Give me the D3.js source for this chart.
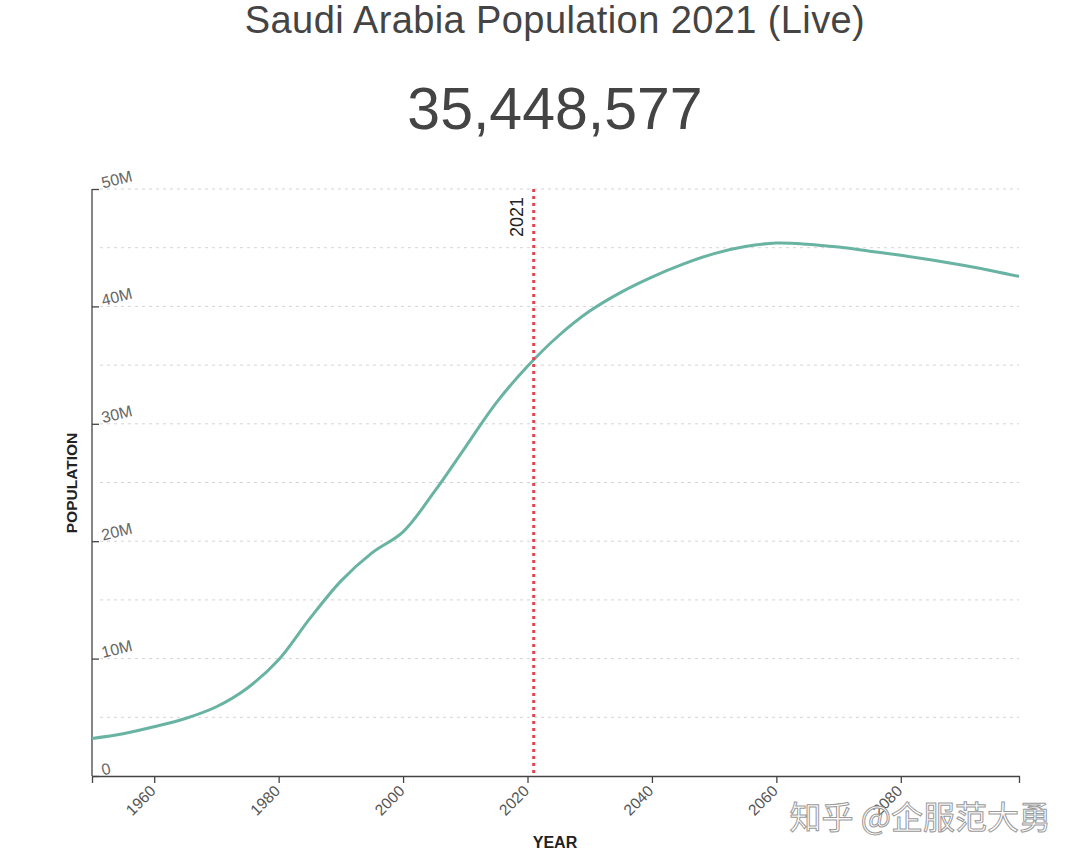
<!DOCTYPE html>
<html>
<head>
<meta charset="utf-8">
<script src="https://cdn.jsdelivr.net/npm/d3@7"></script>
<style>
  body { margin: 0; background: #fff; }
  svg { display: block; font-family: "Liberation Sans", Arial, sans-serif; }
</style>
</head>
<body>
<svg id="chart" width="1080" height="859"></svg>
<script>
// ---- data ----
const titleText = "Saudi Arabia Population 2021 (Live)";
const livePopulation = 35448577;
const currentYear = 2021;
const years = [1950,1955,1960,1965,1970,1975,1980,1985,1990,1995,2000,2005,2010,2015,2020,2025,2030,2035,2040,2045,2050,2055,2060,2065,2070,2075,2080,2085,2090,2095,2099];
const population = [3.2,3.6,4.2,4.9,5.9,7.5,9.9,13.4,16.6,19.0,20.8,24.2,28.0,31.8,34.9,37.5,39.6,41.2,42.5,43.6,44.5,45.1,45.4,45.3,45.05,44.7,44.35,43.95,43.5,43.0,42.55].map(v => v * 1e6);
const xTicks = [1960,1980,2000,2020,2040,2060,2080];
const yTicks = [0,10e6,20e6,30e6,40e6,50e6];
const gridValues = [5e6,10e6,15e6,20e6,25e6,30e6,35e6,40e6,45e6,50e6];
const watermark = "知乎 @企服范大勇";

const data = years.map((yr, i) => ({ year: yr, value: population[i] }));

const svg = d3.select("#chart");
const mLeft = 92, mRight = 1019, mTop = 189, mBottom = 776;

const x = d3.scaleLinear().domain([1950, 2099]).range([mLeft, mRight]);
const y = d3.scaleLinear().domain([0, 50e6]).range([mBottom, mTop]);

// title
svg.append("text").attr("x", 555).attr("y", 33).attr("text-anchor", "middle")
  .style("font-size", "38px").style("letter-spacing", "0.4px").style("fill", "#444").text(titleText);
svg.append("text").attr("x", 555).attr("y", 129).attr("text-anchor", "middle")
  .style("font-size", "59px").style("fill", "#444").text(d3.format(",")(livePopulation));

// grid
svg.append("g").selectAll("line").data(gridValues).join("line")
  .attr("x1", mLeft + 8).attr("x2", mRight)
  .attr("y1", d => y(d)).attr("y2", d => y(d))
  .attr("stroke", "#d4d4d4").attr("stroke-width", 1).attr("stroke-dasharray", "3,4");

// y axis
const yAxis = svg.append("g").attr("transform", `translate(${mLeft},0)`)
  .call(d3.axisRight(y).tickValues(yTicks).tickSize(7)
    .tickFormat(d => d === 0 ? "0" : d3.format(".0f")(d / 1e6) + "M"));
yAxis.select(".domain").attr("stroke", "#444").attr("stroke-width", 1.3).attr("d", `M0,${mTop}V${mBottom}`);
yAxis.selectAll(".tick line").attr("stroke", "#444").attr("stroke-width", 1.3);
yAxis.selectAll(".tick text")
  .attr("x", 0).attr("dy", 0).attr("y", 0)
  .attr("transform", "translate(11,-1) rotate(-14)")
  .attr("text-anchor", "start")
  .style("font-size", "16px").style("fill", "#666").style("font-family", "Liberation Sans, Arial, sans-serif");

// x axis
const xAxis = svg.append("g").attr("transform", `translate(0,${mBottom})`)
  .call(d3.axisBottom(x).tickValues(xTicks).tickSize(7).tickSizeOuter(7).tickFormat(d3.format("d")));
xAxis.select(".domain").attr("stroke", "#444").attr("stroke-width", 1.3);
xAxis.selectAll(".tick line").attr("stroke", "#444").attr("stroke-width", 1.3);
xAxis.selectAll(".tick text")
  .attr("x", 0).attr("y", 0).attr("dy", 0)
  .attr("transform", "translate(2,16) rotate(-45)")
  .attr("text-anchor", "end")
  .style("font-size", "15.5px").style("fill", "#555").style("font-family", "Liberation Sans, Arial, sans-serif");

// axis titles
svg.append("text").attr("x", 555).attr("y", 848).attr("text-anchor", "middle")
  .style("font-size", "16px").style("font-weight", "bold").style("fill", "#222").text("YEAR");
svg.append("text").attr("transform", "translate(77,483) rotate(-90)").attr("text-anchor", "middle")
  .style("font-size", "15.5px").style("font-weight", "bold").style("fill", "#222").text("POPULATION");

// line
svg.append("path").datum(data)
  .attr("fill", "none").attr("stroke", "#69b3a2").attr("stroke-width", 3)
  .attr("d", d3.line().x(d => x(d.year)).y(d => y(d.value)).curve(d3.curveCatmullRom));

// current year marker
svg.append("line")
  .attr("x1", x(currentYear)).attr("x2", x(currentYear))
  .attr("y1", mTop).attr("y2", mBottom)
  .attr("stroke", "#e0454f").attr("stroke-width", 3).attr("stroke-dasharray", "3,4");
svg.append("text")
  .attr("transform", `translate(${x(currentYear) - 11},${mTop + 8}) rotate(-90)`)
  .attr("text-anchor", "end")
  .style("font-size", "18px").style("fill", "#222").text(currentYear);

// watermark
svg.append("text").attr("x", 1051).attr("y", 829).attr("text-anchor", "end")
  .style("font-family", "Noto Sans CJK SC, sans-serif").style("font-size", "32px")
  .style("fill", "#ffffff").style("stroke", "#9a9a9a").style("stroke-width", 1)
  .text(watermark);
</script>
</body>
</html>
